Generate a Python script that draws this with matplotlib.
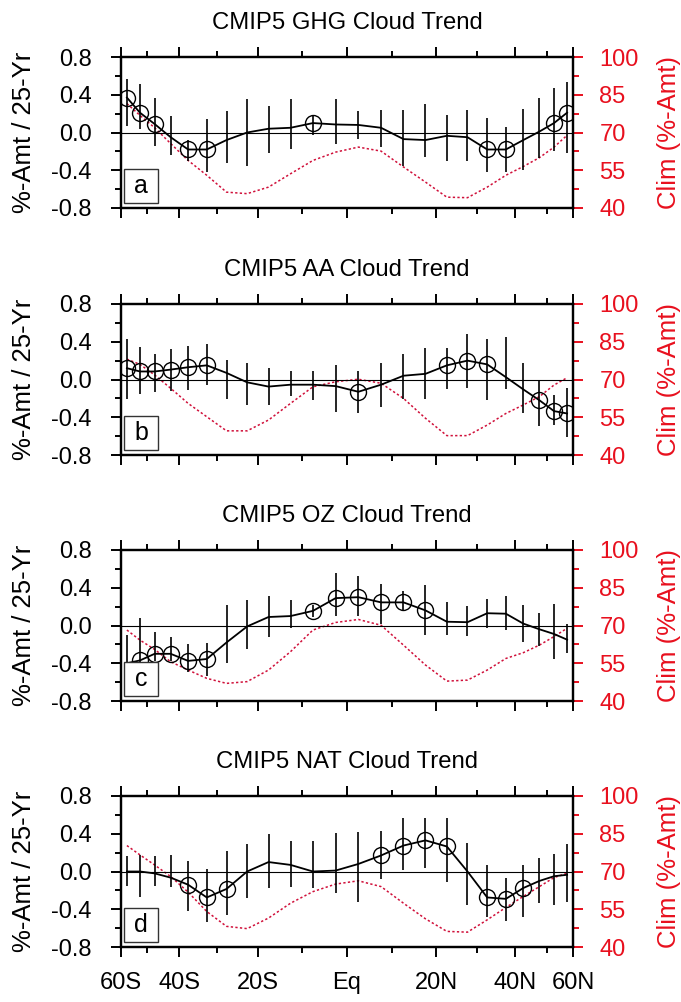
import matplotlib.pyplot as plt
from matplotlib.patches import Rectangle
import numpy as np

plt.rcParams["font.family"] = ["Liberation Sans", "DejaVu Sans"]

# latitude bin centres (deg)
lat = np.arange(-57.5, 60, 5.0)

titles = ["CMIP5 GHG Cloud Trend", "CMIP5 AA Cloud Trend",
          "CMIP5 OZ Cloud Trend", "CMIP5 NAT Cloud Trend"]
letters = ["a", "b", "c", "d"]

# trend (%-Amt / 25-Yr)
ghg = [0.37, 0.21, 0.09, -0.05, -0.18, -0.18, -0.08, 0.0, 0.04, 0.05, 0.10, 0.085,
       0.08, 0.05, -0.07, -0.08, -0.035, -0.05, -0.18, -0.18, -0.08, 0.01, 0.10, 0.21]
aa = [0.12, 0.085, 0.085, 0.105, 0.13, 0.15, 0.07, -0.03, -0.075, -0.055, -0.055, -0.07,
      -0.13, -0.055, 0.04, 0.06, 0.15, 0.20, 0.16, 0.025, -0.105, -0.22, -0.335, -0.36]
oz = [-0.40, -0.37, -0.30, -0.30, -0.375, -0.355, -0.18, -0.01, 0.09, 0.10, 0.155, 0.29,
      0.30, 0.245, 0.245, 0.16, 0.04, 0.035, 0.13, 0.125, 0.02, -0.04, -0.09, -0.15]
nat = [0.0, 0.0, -0.02, -0.065, -0.14, -0.275, -0.185, 0.0, 0.10, 0.07, 0.0, 0.01,
       0.08, 0.17, 0.275, 0.33, 0.265, 0.0, -0.275, -0.29, -0.175, -0.10, -0.05, -0.035]

# error bar ends
ghg_hi = [0.57, 0.51, 0.37, 0.17, -0.08, 0.14, 0.23, 0.36, 0.28, 0.36, 0.19, 0.36,
          0.23, 0.24, 0.24, 0.30, 0.19, 0.24, 0.15, 0.06, 0.25, 0.37, 0.47, 0.54]
ghg_lo = [0.07, 0.04, -0.145, -0.24, -0.30, -0.42, -0.32, -0.35, -0.22, -0.18, -0.03, -0.12,
          -0.07, -0.15, -0.36, -0.26, -0.30, -0.30, -0.42, -0.42, -0.40, -0.27, -0.20, -0.22]
aa_hi = [0.43, 0.34, 0.27, 0.32, 0.35, 0.38, 0.21, 0.18, 0.12, 0.095, 0.085, 0.15,
         0.085, 0.18, 0.27, 0.33, 0.33, 0.48, 0.43, 0.45, 0.18, -0.01, -0.16, -0.09]
aa_lo = [-0.205, -0.15, -0.13, -0.12, -0.11, -0.055, -0.205, -0.265, -0.27, -0.18, -0.215, -0.34,
         -0.36, -0.29, -0.205, -0.205, -0.10, -0.09, -0.22, -0.10, -0.36, -0.49, -0.48, -0.61]
oz_hi = [-0.10, 0.08, -0.065, -0.12, -0.20, -0.19, 0.22, 0.27, 0.31, 0.27, 0.22, 0.555,
         0.52, 0.44, 0.37, 0.43, 0.245, 0.21, 0.28, 0.31, 0.22, 0.13, 0.23, 0.02]
oz_lo = [-0.47, -0.45, -0.38, -0.38, -0.49, -0.54, -0.40, -0.25, -0.12, -0.03, 0.09, 0.10,
         0.10, 0.015, 0.165, -0.10, -0.10, -0.11, -0.03, -0.045, -0.17, -0.22, -0.36, -0.29]
nat_hi = [0.16, 0.18, 0.16, 0.18, 0.11, 0.03, 0.22, 0.29, 0.40, 0.32, 0.32, 0.41,
          0.42, 0.43, 0.57, 0.565, 0.565, 0.30, 0.07, -0.07, 0.07, 0.14, 0.185, 0.29]
nat_lo = [-0.15, -0.265, -0.15, -0.16, -0.42, -0.53, -0.46, -0.28, -0.17, -0.16, -0.18, -0.23,
          -0.32, -0.08, 0.02, 0.04, -0.11, -0.36, -0.48, -0.52, -0.48, -0.335, -0.35, -0.325]

# significant bins (circled)
ghg_sig = [0, 1, 2, 4, 5, 10, 18, 19, 22, 23]
aa_sig = [0, 1, 2, 3, 4, 5, 12, 16, 17, 18, 21, 22, 23]
oz_sig = [1, 2, 3, 4, 5, 10, 11, 12, 13, 14, 15]
nat_sig = [4, 5, 6, 13, 14, 15, 16, 18, 19, 20]

# climatology (%-Amt)
ghg_clim = [81.5, 76.8, 71.9, 65.6, 58.9, 53.0, 46.3, 45.7, 48.3, 53.6, 58.9, 62.2,
            64.2, 62.6, 56.3, 50.3, 44.3, 44.1, 48.3, 53.0, 56.5, 60.0, 64.2, 68.9]
aa_clim = [78.1, 76.0, 71.8, 66.5, 60.5, 55.2, 49.6, 49.6, 53.9, 60.5, 67.1, 69.1,
           70.1, 68.5, 62.5, 54.6, 47.7, 47.7, 51.9, 56.5, 59.9, 63.2, 67.8, 70.7]
oz_clim = [68.2, 64.2, 60.5, 55.6, 52.3, 49.0, 47.0, 47.7, 52.3, 59.6, 68.2, 71.2,
           72.4, 70.1, 62.2, 54.3, 47.9, 48.3, 52.3, 56.9, 59.2, 62.2, 65.6, 68.9]
nat_clim = [80.3, 76.6, 72.6, 68.0, 61.8, 54.1, 48.2, 47.3, 51.5, 57.4, 62.0, 65.0,
            66.3, 64.0, 57.4, 51.2, 46.2, 45.9, 50.8, 55.7, 60.1, 64.0, 67.6, 69.3]

xtick_lat = [-60, -40, -20, 0, 20, 40, 60]
xtick_lab = ["60S", "40S", "20S", "Eq", "20N", "40N", "60N"]
xminor_lat = [-50, -30, -10, 10, 30, 50]

panels = [
    (ghg, ghg_hi, ghg_lo, ghg_sig, ghg_clim),
    (aa, aa_hi, aa_lo, aa_sig, aa_clim),
    (oz, oz_hi, oz_lo, oz_sig, oz_clim),
    (nat, nat_hi, nat_lo, nat_sig, nat_clim),
]

sinlat = lambda d: np.sin(np.deg2rad(np.asarray(d, dtype=float)))
x = sinlat(lat)
red = "#e8101e"
clim_red = "#d0103a"

W, H = 681, 1002
fig = plt.figure(figsize=(W / 100, H / 100), dpi=100)
tops = [57, 304, 550, 796]
left, right, ph = 121, 573, 151

for i, (val, hi, lo, sig, clim) in enumerate(panels):
    ax = fig.add_axes([left / W, 1 - (tops[i] + ph) / H, (right - left) / W, ph / H])
    ax2 = ax.twinx()
    ax.set_zorder(ax2.get_zorder() + 1)
    ax.patch.set_visible(False)

    ax2.plot(x, clim, color=clim_red, lw=1.1, ls=(0, (1.5, 1.5)))
    ax2.set_ylim(40, 100)
    ax2.set_yticks([40, 55, 70, 85, 100])
    ax2.set_yticks([47.5, 62.5, 77.5, 92.5], minor=True)
    ax2.tick_params(axis="y", which="both", colors=red, labelsize=17, direction="out",
                    width=1.4, pad=12)
    ax2.tick_params(axis="y", which="major", length=7)
    ax2.tick_params(axis="y", which="minor", length=4)
    ax2.set_ylabel("Clim (%-Amt)", color=red, fontsize=18.5, labelpad=13)

    ax.axhline(0, color="black", lw=0.8)
    ax.vlines(x, lo, hi, color="black", lw=1.2)
    ax.plot(x, val, color="black", lw=1.3)
    sx = x[sig]
    sv = np.asarray(val)[sig]
    ax.plot(sx, sv, ls="none", marker="o", ms=11.5, mfc="none", mec="black", mew=1.0)

    ax.set_xlim(sinlat(-60), sinlat(60))
    ax.set_ylim(-0.8, 0.8)
    ax.set_yticks([-0.8, -0.4, 0.0, 0.4, 0.8])
    ax.set_yticklabels(["-0.8", "-0.4", "0.0", "0.4", "0.8"])
    ax.set_yticks([-0.6, -0.2, 0.2, 0.6], minor=True)
    ax.set_xticks(sinlat(xtick_lat))
    ax.set_xticks(sinlat(xminor_lat), minor=True)
    if i == 3:
        ax.set_xticklabels(xtick_lab)
    else:
        ax.set_xticklabels([])
    ax.tick_params(which="both", direction="out", width=1.4, labelsize=17,
                   top=True, bottom=True, left=True, right=False)
    ax.tick_params(which="major", length=7)
    ax.tick_params(which="minor", length=4)
    ax.tick_params(axis="y", pad=14)
    ax.tick_params(axis="x", pad=11)
    ax.set_ylabel("%-Amt / 25-Yr", fontsize=18.5, labelpad=11)
    ax.set_title(titles[i], fontsize=17.2, pad=20)
    for sp in ax.spines.values():
        sp.set_linewidth(1.6)
    for sp in ax2.spines.values():
        sp.set_linewidth(1.6)

    # panel letter in a small square box, lower left
    bx, by, bw, bh = 3 / 452, 5 / 151, 34 / 452, 34 / 151
    ax.add_patch(Rectangle((bx, by), bw, bh, transform=ax.transAxes, facecolor="white",
                           edgecolor="#333333", lw=1.0, zorder=5))
    ax.text(bx + bw / 2, by + bh / 2, letters[i], transform=ax.transAxes, fontsize=18,
            ha="center", va="center", zorder=6)

fig.savefig("out.png", dpi=100)
